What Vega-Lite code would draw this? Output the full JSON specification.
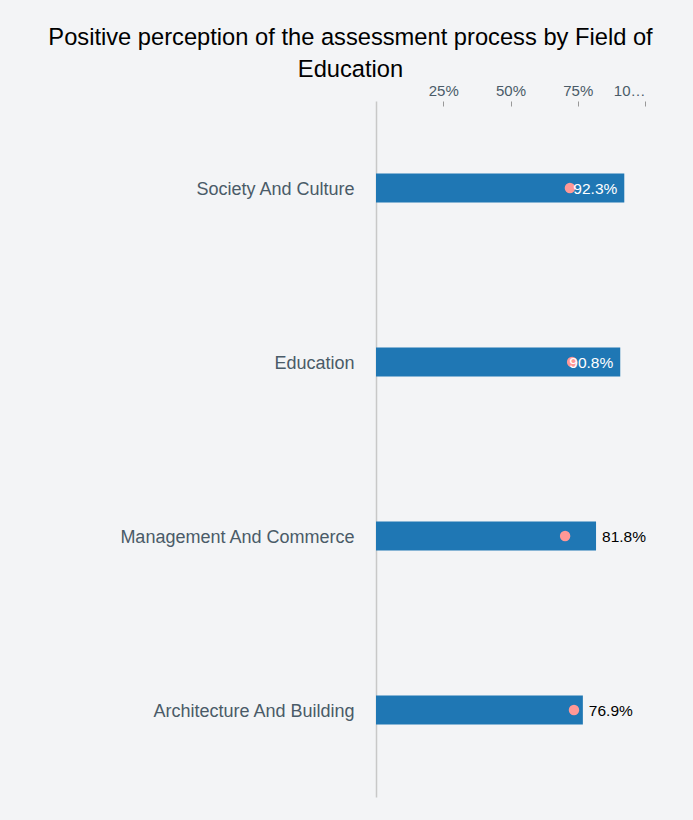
{
  "$schema": "https://vega.github.io/schema/vega-lite/v6.json",
  "autosize": {"type": "none"},
  "width": 269,
  "height": 696,
  "padding": {"left": 376, "top": 101, "right": 48, "bottom": 23},
  "background": "#f3f4f6",
  "config": {
    "font": "Liberation Sans",
    "view": {"stroke": null}
  },
  "title": {
    "text": ["Positive perception of the assessment process by Field of", "Education"],
    "fontSize": 23.7,
    "fontWeight": "normal",
    "color": "#000000",
    "lineHeight": 32,
    "anchor": "middle",
    "dx": -160,
    "offset": 1
  },
  "data": {
    "values": [
      {"field": "Society And Culture", "value": 0.923, "benchmark": 0.721},
      {"field": "Education", "value": 0.908, "benchmark": 0.729},
      {"field": "Management And Commerce", "value": 0.818, "benchmark": 0.703},
      {"field": "Architecture And Building", "value": 0.769, "benchmark": 0.736}
    ]
  },
  "encoding": {
    "y": {
      "field": "field",
      "type": "nominal",
      "sort": null,
      "axis": {
        "title": null,
        "ticks": false,
        "domain": true,
        "domainColor": "#c8c8c8",
        "domainWidth": 1.5,
        "labelFontSize": 18,
        "labelColor": "#4a5b68",
        "labelPadding": 22,
        "labelOffset": 2,
        "labelLimit": 400
      }
    }
  },
  "layer": [
    {
      "mark": {"type": "bar", "size": 29, "color": "#1f77b4"},
      "encoding": {
        "x": {
          "field": "value",
          "type": "quantitative",
          "scale": {"domain": [0, 1]},
          "axis": {
            "orient": "top",
            "title": null,
            "grid": false,
            "domain": false,
            "values": [0.25, 0.5, 0.75, 1],
            "format": ".0%",
            "tickColor": "#999999",
            "tickSize": 5,
            "offset": -5,
            "labelPadding": 3,
            "labelFontSize": 15,
            "labelColor": "#4a5b68",
            "labelLimit": 34
          }
        }
      }
    },
    {
      "mark": {"type": "point", "filled": true, "color": "#ff9896", "size": 110, "opacity": 1},
      "encoding": {
        "x": {"field": "benchmark", "type": "quantitative"}
      }
    },
    {
      "transform": [{"filter": "datum.value > 0.85"}],
      "mark": {"type": "text", "align": "right", "dx": -7, "dy": 1, "fontSize": 15.5, "color": "#ffffff", "baseline": "middle"},
      "encoding": {
        "x": {"field": "value", "type": "quantitative"},
        "text": {"field": "value", "type": "quantitative", "format": ".1%"}
      }
    },
    {
      "transform": [{"filter": "datum.value <= 0.85"}],
      "mark": {"type": "text", "align": "left", "dx": 6, "dy": 1, "fontSize": 15.5, "color": "#000000", "baseline": "middle"},
      "encoding": {
        "x": {"field": "value", "type": "quantitative"},
        "text": {"field": "value", "type": "quantitative", "format": ".1%"}
      }
    }
  ]
}
